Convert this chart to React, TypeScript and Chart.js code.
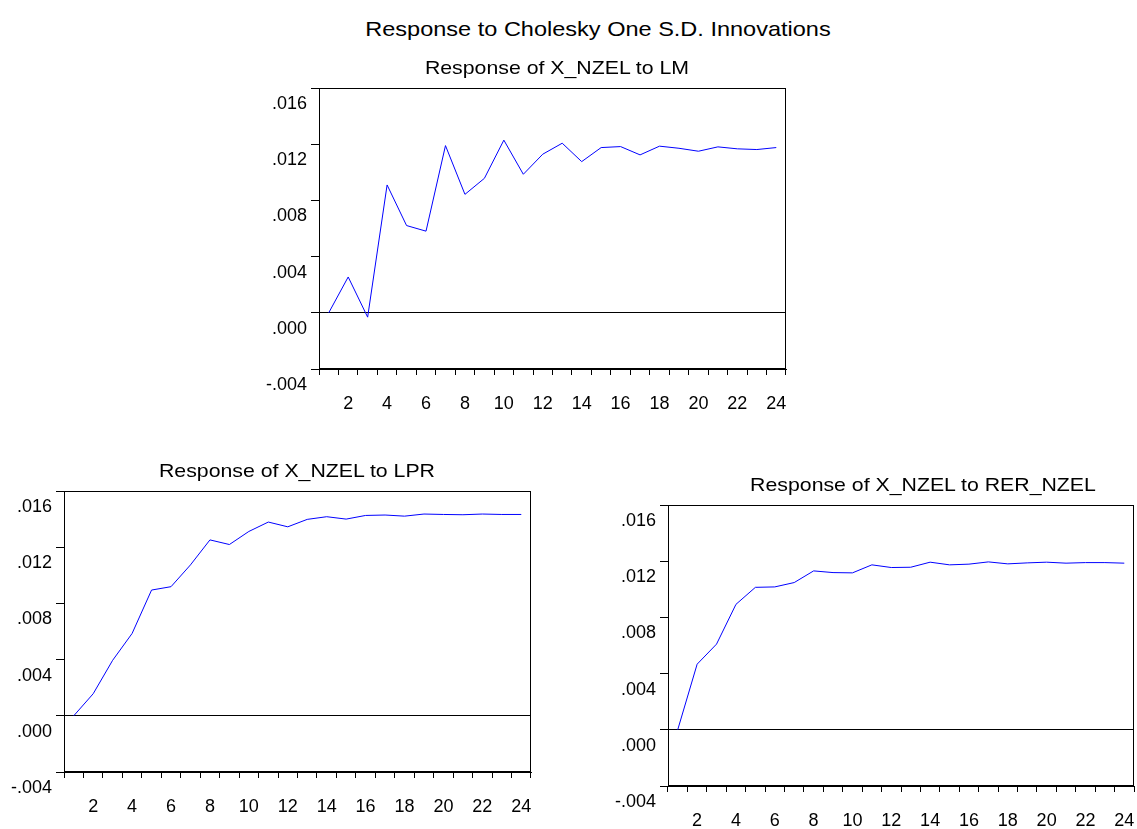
import React, { useEffect, useRef } from "react";
import { Chart, registerables } from "chart.js";

Chart.register(...registerables);

// ---- data ----
const periods = [
  "1", "2", "3", "4", "5", "6", "7", "8", "9", "10", "11", "12",
  "13", "14", "15", "16", "17", "18", "19", "20", "21", "22", "23", "24",
];
const yTickValues = [-0.004, 0.0, 0.004, 0.008, 0.012, 0.016];

const responseToLM = [
  0.0, 0.00255, -0.00031, 0.0091, 0.00621, 0.00581, 0.0119, 0.00843,
  0.00957, 0.01229, 0.00986, 0.01129, 0.01207, 0.01076, 0.01176, 0.01183,
  0.01124, 0.01186, 0.01171, 0.0115, 0.01181, 0.01167, 0.01162, 0.01176,
];
const responseToLPR = [
  0.0, 0.00157, 0.00395, 0.00586, 0.00895, 0.00919, 0.01074, 0.01252,
  0.01219, 0.01312, 0.01379, 0.01345, 0.01398, 0.01417, 0.014, 0.01426,
  0.01429, 0.01421, 0.01436, 0.01433, 0.01431, 0.01436, 0.01433, 0.01433,
];
const responseToRER = [
  0.0, 0.00467, 0.0061, 0.00893, 0.01014, 0.01017, 0.01048, 0.01131,
  0.01119, 0.01117, 0.01174, 0.01155, 0.01157, 0.01193, 0.01174, 0.01179,
  0.01195, 0.01181, 0.01188, 0.01193, 0.01186, 0.0119, 0.0119, 0.01186,
];

const mainTitle = "Response to Cholesky One S.D. Innovations";
const titleLM = "Response of X_NZEL to LM";
const titleLPR = "Response of X_NZEL to LPR";
const titleRER = "Response of X_NZEL to RER_NZEL";

// ---- layout constants ----
const FONT = '"Liberation Sans", Arial, Helvetica, sans-serif';
const Y_AXIS_W = 60;
const X_AXIS_H = 60;
const PAD_T = 30;
const PAD_R = 30;

const fmt = (v: number) => {
  const s = (Math.abs(v) < 1e-9 ? 0 : v).toFixed(3);
  return s.replace(/^(-?)0\./, "$1.");
};

const framePlugin = {
  id: "frame",
  afterDraw(chart: any) {
    const { ctx, chartArea: a } = chart;
    ctx.save();
    ctx.strokeStyle = "#000";
    ctx.lineWidth = 1;
    const l = Math.round(a.left) + 0.5;
    const t = Math.round(a.top) + 0.5;
    const r = Math.round(a.right) - 0.5;
    const b = Math.round(a.bottom) - 0.5;
    ctx.strokeRect(l, t, r - l, b - t);
    ctx.restore();
  },
};

type PlotBox = { left: number; top: number; right: number; bottom: number };

function IrfChart({ values, box }: { values: number[]; box: PlotBox }) {
  const ref = useRef<HTMLCanvasElement | null>(null);
  const cl = box.left - Y_AXIS_W;
  const ct = box.top - PAD_T;
  const cw = box.right + PAD_R - cl;
  const ch = box.bottom + X_AXIS_H - ct;

  useEffect(() => {
    if (!ref.current) return;
    const chart = new Chart(ref.current, {
      type: "line",
      data: {
        labels: periods,
        datasets: [
          {
            data: values,
            borderColor: "#0000ff",
            borderWidth: 1,
            pointRadius: 0,
            tension: 0,
            fill: false,
          },
        ],
      },
      options: {
        animation: false,
        responsive: false,
        maintainAspectRatio: false,
        layout: { padding: { top: PAD_T, right: PAD_R, left: 0, bottom: 0 } },
        plugins: {
          legend: { display: false },
          title: { display: false },
          tooltip: { enabled: false },
        },
        scales: {
          x: {
            type: "category",
            offset: true,
            grid: {
              offset: true,
              drawOnChartArea: false,
              drawTicks: true,
              tickLength: 6,
              tickColor: "#000",
              lineWidth: 1,
            },
            border: { display: true, color: "#000", width: 1 },
            ticks: {
              autoSkip: false,
              maxRotation: 0,
              minRotation: 0,
              padding: 18,
              color: "#000",
              font: { family: FONT, size: 18 },
              callback: (_v: any, i: number) =>
                (i + 1) % 2 === 0 ? periods[i] : "",
            },
            afterFit: (s: any) => {
              s.height = X_AXIS_H;
            },
          },
          y: {
            type: "linear",
            min: yTickValues[0],
            max: yTickValues[yTickValues.length - 1],
            afterBuildTicks: (s: any) => {
              s.ticks = yTickValues.map((v) => ({ value: v }));
            },
            grid: {
              drawOnChartArea: true,
              drawTicks: true,
              tickLength: 8,
              tickColor: "#000",
              lineWidth: 1,
              color: (c: any) =>
                c.tick && Math.abs(c.tick.value) < 1e-9
                  ? "#000"
                  : "rgba(0,0,0,0)",
            },
            border: { display: true, color: "#000", width: 1 },
            ticks: {
              padding: 4,
              labelOffset: 16,
              color: "#000",
              font: { family: FONT, size: 18 },
              callback: (v: any) => fmt(Number(v)),
            },
            afterFit: (s: any) => {
              s.width = Y_AXIS_W;
            },
          },
        },
      },
      plugins: [framePlugin],
    });
    return () => chart.destroy();
  }, [values]);

  return (
    <canvas
      ref={ref}
      width={cw}
      height={ch}
      style={{
        position: "absolute",
        left: cl,
        top: ct,
        width: cw,
        height: ch,
      }}
    />
  );
}

function Title({
  text,
  cx,
  cy,
  size,
}: {
  text: string;
  cx: number;
  cy: number;
  size: number;
}) {
  return (
    <div
      style={{
        position: "absolute",
        left: cx,
        top: cy,
        transform: "translate(-50%, -50%) scaleX(1.12)",
        whiteSpace: "nowrap",
        fontFamily: FONT,
        fontSize: size,
        lineHeight: 1,
        color: "#000",
      }}
    >
      {text}
    </div>
  );
}

export default function App() {
  return (
    <div
      style={{
        position: "absolute",
        left: 0,
        top: 0,
        width: 1137,
        height: 829,
        overflow: "hidden",
        background: "#fff",
      }}
    >
      <IrfChart
        values={responseToLM}
        box={{ left: 319, top: 88, right: 786, bottom: 369 }}
      />
      <IrfChart
        values={responseToLPR}
        box={{ left: 64, top: 491, right: 531, bottom: 772 }}
      />
      <IrfChart
        values={responseToRER}
        box={{ left: 668, top: 505, right: 1134, bottom: 786 }}
      />
      <Title text={mainTitle} cx={597.5} cy={27.5} size={21} />
      <Title text={titleLM} cx={556.5} cy={67} size={19} />
      <Title text={titleLPR} cx={296.5} cy={470} size={19} />
      <Title text={titleRER} cx={922.8} cy={484} size={19} />
    </div>
  );
}
